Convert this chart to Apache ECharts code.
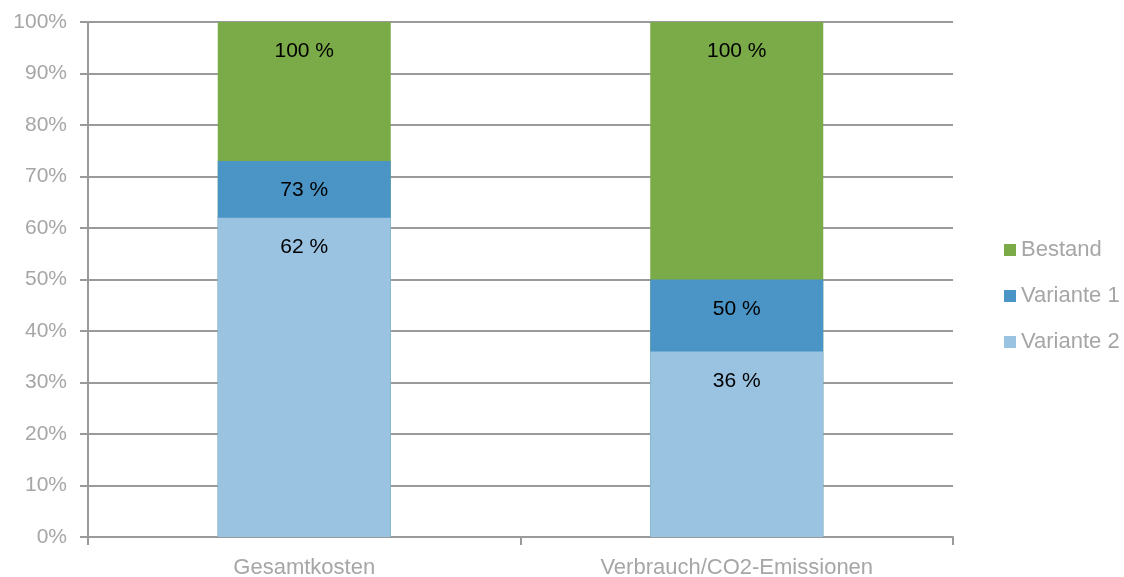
<!DOCTYPE html>
<html><head><meta charset="utf-8">
<script src="https://cdn.jsdelivr.net/npm/echarts@6/dist/echarts.min.js"></script>
<style>html,body{margin:0;padding:0;background:#fff}#c{width:1124px;height:577px}</style>
</head><body><div id="c"></div>
<script>
const categories = ['Gesamtkosten', 'Verbrauch/CO2-Emissionen'];
const bestand = [100, 100];
const variante1 = [73, 50];
const variante2 = [62, 36];
const seriesNames = ['Bestand', 'Variante 1', 'Variante 2'];
const colors = ['#7aab48', '#4a94c6', '#9ac2e1'];

const chart = echarts.init(document.getElementById('c'));
const font = 'Liberation Sans, Arial, sans-serif';
const lbl = {
  show: true, position: 'insideTop', distance: 19,
  color: '#000', fontSize: 21, fontFamily: font,
  formatter: p => p.value + ' %'
};
const mk = (name, data, i) => ({
  name, type: 'bar', data, barWidth: '40%', barGap: '-100%',
  itemStyle: { color: colors[i] }, label: lbl, z: 2 + i
});
chart.setOption({
  animation: false,
  grid: { left: 88, right: 171, top: 22, bottom: 40, containLabel: false, outerBoundsMode: 'none' },
  legend: {
    orient: 'vertical', left: 999, top: 234, itemWidth: 12, itemHeight: 12,
    itemGap: 24, icon: 'rect',
    textStyle: { color: '#a6a6a6', fontSize: 22, fontFamily: font, padding: [0, 0, 0, 0] },
    data: seriesNames
  },
  xAxis: {
    type: 'category', data: categories,
    axisLine: { lineStyle: { color: '#9a9a9a', width: 2 } },
    axisTick: { show: true, length: 8, lineStyle: { color: '#9a9a9a', width: 2 } },
    axisLabel: { color: '#a6a6a6', fontSize: 22, fontFamily: font, margin: 20 }
  },
  yAxis: {
    type: 'value', min: 0, max: 100, interval: 10,
    axisLine: { show: true, lineStyle: { color: '#9a9a9a', width: 2 } },
    axisTick: { show: true, length: 8, lineStyle: { color: '#9a9a9a', width: 2 } },
    splitLine: { lineStyle: { color: '#9a9a9a', width: 2 } },
    axisLabel: { color: '#a6a6a6', fontSize: 21, fontFamily: font, margin: 21, formatter: '{value}%' }
  },
  series: [
    mk(seriesNames[0], bestand, 0),
    mk(seriesNames[1], variante1, 1),
    mk(seriesNames[2], variante2, 2)
  ]
});
</script></body></html>
